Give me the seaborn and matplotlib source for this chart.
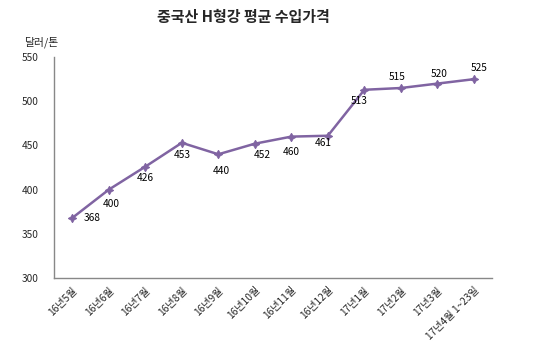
import pandas as pd
import seaborn as sns
import matplotlib.pyplot as plt

months = ['16년5월', '16년6월', '16년7월', '16년8월', '16년9월', '16년10월',
          '16년11월', '16년12월', '17년1월', '17년2월', '17년3월', '17년4월 1~23일']
prices = [368, 400, 426, 453, 440, 452, 460, 461, 513, 515, 520, 525]

# label offsets in points (dx, dy) to mimic the excel placement
label_offsets = [(14, 0), (2, -10), (0, -8), (0, -9), (2, -12), (5, -8),
                 (0, -11), (-3, -5), (-4, -8), (-3, 8), (1, 7), (4, 8)]

df = pd.DataFrame({'month': months, 'price': prices})

sns.set_style('white')
plt.rcParams['font.family'] = ['Noto Sans CJK KR', 'DejaVu Sans']

fig = plt.figure(figsize=(5.53, 3.59), dpi=100)
ax = fig.add_axes([0.0977, 0.2256, 0.7923, 0.6154])

sns.lineplot(data=df, x='month', y='price', sort=False, ax=ax,
             color='#8064A2', linewidth=1.8, marker=(4, 1, 0),
             markersize=6, markeredgecolor='#8064A2', markerfacecolor='#8064A2')

for i, (v, off) in enumerate(zip(prices, label_offsets)):
    ax.annotate(str(v), (i, v), xytext=off, textcoords='offset points',
                ha='center', va='center', fontsize=7.3, color='black')

ax.set_xlim(-0.5, len(months) - 0.5)
ax.set_ylim(300, 550)
ax.set_yticks(range(300, 551, 50))
ax.set_xlabel('')
ax.set_ylabel('')
ax.set_xticks(range(len(months)))
ax.set_xticklabels(months, rotation=45, ha='right', rotation_mode='anchor', fontsize=7.3)
ax.tick_params(axis='y', labelsize=7.3, length=0, pad=11)
ax.tick_params(axis='x', length=0, pad=5)
for sp in ['top', 'right']:
    ax.spines[sp].set_visible(False)
for sp in ['left', 'bottom']:
    ax.spines[sp].set_color('#888888')
    ax.spines[sp].set_linewidth(1)

fig.text(0.44, 0.953, '중국산 H형강 평균 수입가격', ha='center', va='center',
         fontsize=10.8, fontweight='bold')
fig.text(0.043, 0.883, '달러/톤', ha='left', va='center', fontsize=7.8)

fig.savefig('out.png', dpi=100)
